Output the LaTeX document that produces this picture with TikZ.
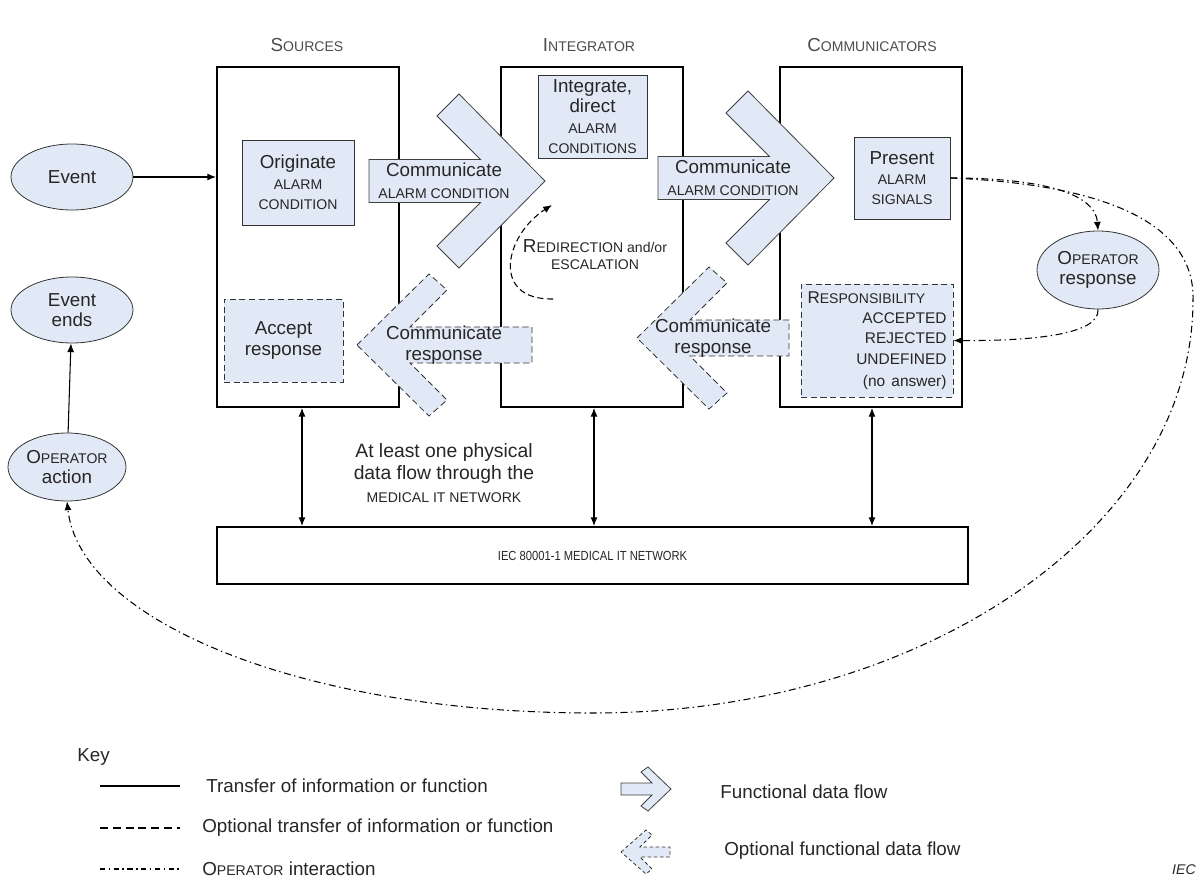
\documentclass[tikz,border=0pt]{standalone}
\usepackage{fontspec}
\usepackage{graphicx}
\setmainfont{Liberation Sans}
\usetikzlibrary{arrows.meta,shapes.geometric}
\definecolor{flowfill}{RGB}{225,233,246}
\newcommand{\scap}[1]{{\fontsize{8}{11.6}\selectfont #1}}
\newcommand{\mcap}[1]{{\fontsize{8.8}{11.6}\selectfont #1}}

\begin{document}
\begin{tikzpicture}[x=0.02cm,y=-0.02cm,
    every node/.style={font=\fontsize{10.7}{11.6}\selectfont, text=black!85, inner sep=0pt},
    hdr/.style={text=black!70},
    unit/.style={draw, line width=1.1pt, minimum width=3.64cm, minimum height=6.8cm},
    fbox/.style={draw=black!80, fill=flowfill, line width=0.45pt, align=center},
    obox/.style={fbox, dash pattern=on 3.5pt off 2pt},
    ev/.style={draw=black!80, ellipse, fill=flowfill, line width=0.45pt, align=center, minimum width=2.44cm, minimum height=1.32cm},
    flow/.style={draw=black!75, fill=flowfill, line width=0.45pt},
    oflow/.style={flow, draw=black!80, dash pattern=on 3.5pt off 2pt},
    conn/.style={-{Latex[length=5pt,width=4pt]}, line width=0.6pt},
    conn2/.style={{Latex[length=5pt,width=4pt]}-{Latex[length=5pt,width=4pt]}, line width=0.6pt},
    opint/.style={conn, dash pattern=on 4pt off 2pt on 0.8pt off 2pt}]

    \useasboundingbox (0,0) rectangle (1197,878);

    % headers
    \node[hdr] (hsrc) at (307,45) {S\scap{OURCES}};
    \node[hdr] (hint) at (589,45) {I\scap{NTEGRATOR}};
    \node[hdr] (hcom) at (872,45) {C\scap{OMMUNICATORS}};

    % the three units and the network
    \node[unit] (sources) at (308,237) {};
    \node[unit] (integrator) at (592,237) {};
    \node[unit] (communicators) at (871,237) {};
    \node[draw, line width=1.1pt, minimum width=15.02cm, minimum height=1.14cm] (network) at (592.5,555.5)
        {\scalebox{0.85}[1]{\fontsize{7.5}{9}\selectfont IEC 80001-1 MEDICAL IT NETWORK}};

    % functional data flow
    \foreach \tx/\ty in {545/181, 834/178}
        \draw[flow, shift={(\tx,\ty)}] (-176,-21.5) -- (-64.5,-21.5) -- (-108,-65) -- (-86,-87) -- (0,0)
            -- (-86,87) -- (-108,65) -- (-64.5,21.5) -- (-176,21.5) -- cycle;
    % optional functional data flow
    \foreach \tx/\ty/\len in {357/345/175, 637/338/152}
        \draw[oflow, shift={(\tx,\ty)}] (0,0) -- (72,-71) -- (90,-55) -- (53,-18) -- (\len,-18)
            -- (\len,18) -- (53,18) -- (90,55) -- (72,71) -- cycle;

    \node[align=center] (comm1) at (444,181) {Communicate\\[1pt]\scap{ALARM CONDITION}};
    \node[align=center] (comm2) at (733,178) {Communicate\\[1pt]\scap{ALARM CONDITION}};
    \node[align=center] (back1) at (444,345) {Communicate\\response};
    \node[align=center] (back2) at (713,338) {Communicate\\response};

    % functions
    \node[fbox, minimum width=2.24cm, minimum height=1.7cm] (originate) at (298,182.5)
        {Originate\\\scap{ALARM}\\\scap{CONDITION}};
    \node[obox, minimum width=2.38cm, minimum height=1.66cm] (accept) at (283.5,340.5) {Accept\\response};
    \node[fbox, minimum width=2.18cm, minimum height=1.66cm] (integrate) at (592.5,116.5)
        {Integrate,\\direct\\\scap{ALARM}\\\scap{CONDITIONS}};
    \node[fbox, minimum width=1.92cm, minimum height=1.64cm] (present) at (902,178)
        {Present\\\scap{ALARM}\\\scap{SIGNALS}};
    \node[obox, minimum width=3.04cm, minimum height=2.26cm, align=right, text width=2.78cm] (respons) at (877,340.5)
        {\makebox[2.78cm][l]{\fontsize{9.7}{11.6}\selectfont R\scap{ESPONSIBILITY}}\\\mcap{ACCEPTED}\\\mcap{REJECTED}\\\mcap{UNDEFINED}\\[1pt]\mcap{(no answer)}};

    % events and operator
    \node[ev] (event) at (72,177) {Event};
    \node[ev] (evends) at (72,310) {Event\\ends};
    \node[ev, minimum width=2.36cm, minimum height=1.36cm] (opact) at (67,467) {O\scap{PERATOR}\\action};
    \node[ev, minimum height=1.56cm] (opresp) at (1098,270) {O\scap{PERATOR}\\response};

    \node[align=center] (redir) at (595,255) {R\scap{EDIRECTION and/or}\\[-2pt]\scap{ESCALATION}};
    \node[align=center, font=\fontsize{11}{13}\selectfont] (atleast) at (444,473)
        {At least one physical\\data flow through the\\\scap{MEDICAL IT NETWORK}};

    % connectors
    \draw[conn] (event.east) -- (event.east -| sources.west);
    \draw[conn] (opact) -- (evends);
    \foreach \u/\dx in {sources/-6, integrator/2, communicators/1}
        \draw[conn2] ([xshift=\dx*0.02cm]\u.south) -- ([xshift=\dx*0.02cm]\u.south |- network.north);

    \coordinate (redA) at (553,299);
    \coordinate (redB) at (552,205);
    \draw[conn, dash pattern=on 3.5pt off 2pt] (redA) .. controls (490,300) and (505,235) .. (redB);

    \draw[opint] (present.east) .. controls (1030,178) and (1095,190) .. (opresp.north);
    \draw[opint] (opresp.south) .. controls (1100,335) and (1030,341) .. (respons.east);
    \draw[opint] (present.east) .. controls (1120,185) and (1195,230) .. (1193,300)
        .. controls (1193,528) and (924,713) .. (593,713)
        .. controls (300,713) and (80,620) .. (opact.south);

    % key
    \node[anchor=west] (key) at (77,757) {Key};
    \node[anchor=west] (k1) at (206,786) {Transfer of information or function};
    \node[anchor=west] (k2) at (202,828) {Optional transfer of information or function};
    \node[anchor=west] (k3) at (202,869) {O\scap{PERATOR} interaction};
    \draw[line width=0.6pt] (100,786) -- (180,786);
    \draw[line width=0.6pt, dash pattern=on 4.5pt off 2.8pt] (100,828) -- (180,828);
    \draw[line width=0.6pt, dash pattern=on 3pt off 2pt on 0.8pt off 2pt] (100,869) -- (180,869);

    \draw[flow, shift={(671,789)}] (-50,-6) -- (-19,-6) -- (-30,-17) -- (-23,-22) -- (0,0)
        -- (-23,22) -- (-30,17) -- (-19,6) -- (-50,6) -- cycle;
    \draw[oflow, dash pattern=on 2pt off 1.5pt, shift={(621,852)}] (0,0) -- (25,-22) -- (31,-17) -- (19,-5)
        -- (49,-5) -- (49,5) -- (19,5) -- (31,17) -- (25,22) -- cycle;
    \node[anchor=west] (k4) at (720,792) {Functional data flow};
    \node[anchor=west] (k5) at (724,851) {Optional functional data flow};
    \node[anchor=east, font=\fontsize{8}{9}\selectfont\itshape] (iec) at (1196,870) {IEC};
\end{tikzpicture}
\end{document}
